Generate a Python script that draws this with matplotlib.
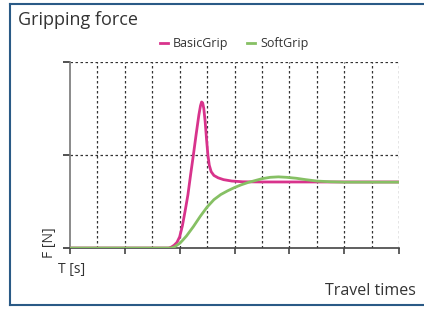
import matplotlib
matplotlib.use("Agg")
import matplotlib.pyplot as plt
from matplotlib.lines import Line2D

plt.rcParams['font.family'] = ['Open Sans', 'DejaVu Sans']

basic_x = [0, 3.6, 3.7, 3.8, 3.9, 4.0, 4.1, 4.2, 4.3, 4.4, 4.5, 4.6, 4.7, 4.76, 4.80, 4.84, 4.88,
           4.93, 4.98, 5.03, 5.08, 5.15, 5.25, 5.4, 5.6, 5.9, 6.3, 7.0, 12.0]
basic_y = [0, 0, 0.01, 0.03, 0.06, 0.12, 0.24, 0.40, 0.57, 0.79, 1.00, 1.22, 1.43, 1.53, 1.57, 1.56, 1.50,
           1.36, 1.17, 1.00, 0.89, 0.82, 0.78, 0.755, 0.735, 0.72, 0.712, 0.71, 0.71]

soft_x = [0, 3.7, 3.8, 3.9, 4.0, 4.1, 4.25, 4.5, 4.75, 5.0, 5.25, 5.5, 5.75, 6.0, 6.25, 6.5, 6.75,
          7.0, 7.3, 7.6, 7.9, 8.25, 8.6, 9.0, 9.5, 10.0, 12.0]
soft_y = [0, 0, 0.01, 0.03, 0.05, 0.08, 0.13, 0.23, 0.34, 0.44, 0.52, 0.575, 0.615, 0.65, 0.68, 0.705, 0.725,
          0.745, 0.76, 0.765, 0.76, 0.75, 0.735, 0.72, 0.712, 0.708, 0.708]

series_names = ["BasicGrip", "SoftGrip"]
colors = ["#d8338c", "#86c064"]

W, H = 424, 309
fig = plt.figure(figsize=(W / 100, H / 100), dpi=100)
fig.patch.set_facecolor("white")
frame_color = "#2a5a86"
# panel frame: left, top and bottom edges (right edge lies beyond the image)
for xs, ys in [([10, 10], [4, 305]), ([10, W], [4, 4]), ([10, W], [305, 305])]:
    fig.add_artist(Line2D([x / W for x in xs], [1 - y / H for y in ys], transform=fig.transFigure,
                          color=frame_color, linewidth=1.5, solid_capstyle="projecting"))

ax = fig.add_axes([70 / W, 1 - 248 / H, 329 / W, 186 / H])
ax.set_xlim(0, 12)
ax.set_ylim(0, 2)

for x in range(1, 13):
    ax.axvline(x, color="#333333", linestyle=(0, (2, 2)), linewidth=0.9, zorder=1)
for y in [1, 2]:
    ax.axhline(y, color="#333333", linestyle=(0, (2, 2)), linewidth=0.9, zorder=1)

ax.plot(basic_x, basic_y, color=colors[0], linewidth=2, zorder=3,
        solid_joinstyle="round", solid_capstyle="round")
ax.plot(soft_x, soft_y, color=colors[1], linewidth=2, zorder=4,
        solid_joinstyle="round", solid_capstyle="round")

for s in ["top", "right"]:
    ax.spines[s].set_visible(False)
ax.spines["left"].set_color("#777777")
ax.spines["left"].set_linewidth(1.2)
ax.spines["bottom"].set_color("#444444")
ax.spines["bottom"].set_linewidth(1.2)
ax.set_xticks([0, 2, 4, 6, 8, 10, 12])
ax.set_yticks([0, 1, 2])
ax.tick_params(axis="x", direction="out", length=4, width=1.2, color="#444444", labelbottom=False)
ax.tick_params(axis="y", direction="out", length=5, width=1.2, color="#333333", labelleft=False)

fig.text(18 / W, 1 - 20 / H, "Gripping force", fontsize=13, color="#333333", va="center", ha="left")
fig.text(50 / W, 1 - 243 / H, "F [N]", fontsize=10, color="#333333", rotation=90, va="center", ha="center")
fig.text(58 / W, 1 - 269 / H, "T [s]", fontsize=10, color="#333333", va="center", ha="left")
fig.text(416 / W, 1 - 291 / H, "Travel times", fontsize=11.5, color="#333333", va="center", ha="right")

handles = [Line2D([], [], color=c, linewidth=2) for c in colors]
fig.legend(handles, series_names, loc="center", bbox_to_anchor=(234 / W, 1 - 44 / H), ncol=2,
           frameon=False, fontsize=9, handlelength=0.65, handletextpad=0.4, columnspacing=1.5,
           labelcolor="#333333")

fig.savefig("out.png", dpi=100)
